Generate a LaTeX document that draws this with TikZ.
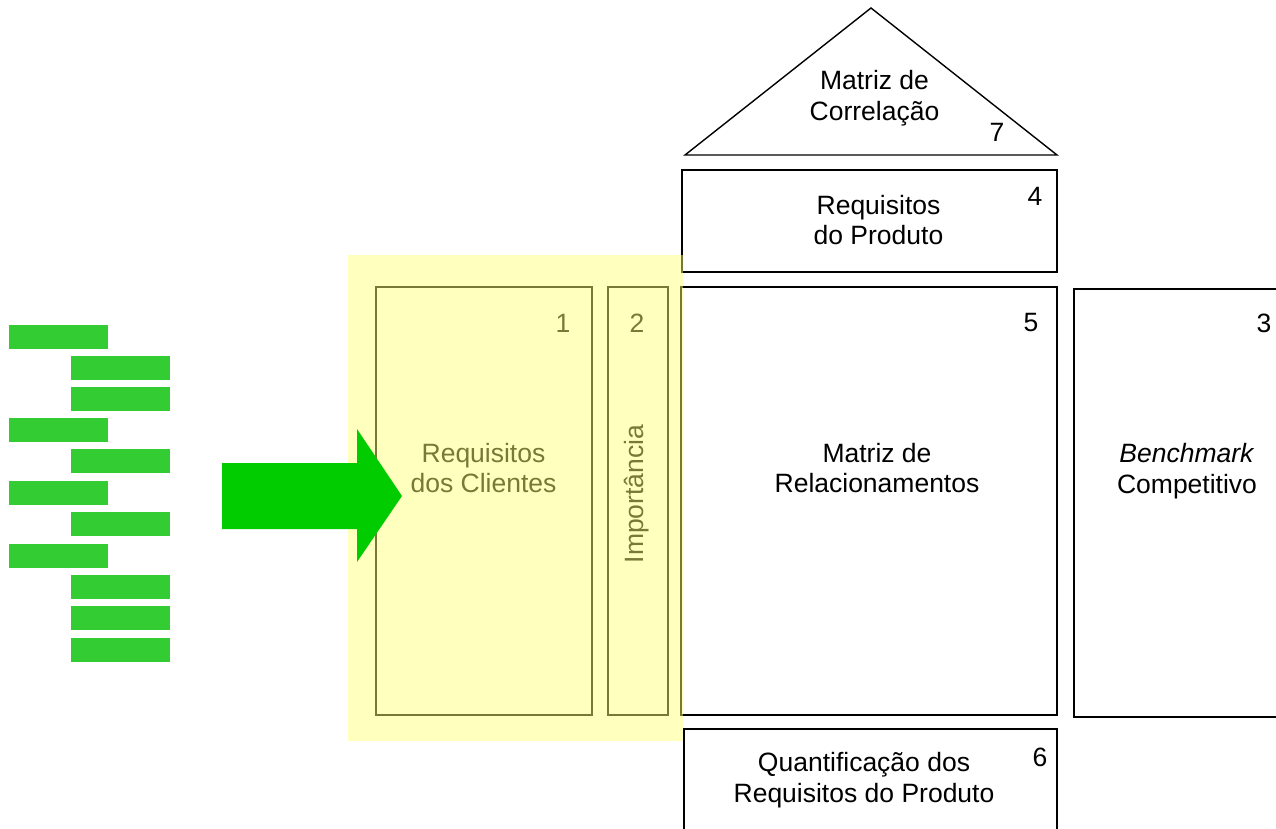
\documentclass[tikz,border=0pt]{standalone}
\usepackage{fontspec}
\setmainfont{Liberation Sans}
\definecolor{barg}{RGB}{51,204,51}
\definecolor{arrg}{RGB}{0,204,0}
\definecolor{hl}{RGB}{255,255,117}
\begin{document}
\begin{tikzpicture}[x=1pt,y=-1pt,
  box/.style={draw=black,line width=1.4pt,rectangle,inner sep=0pt},
  lbl/.style={font=\fontsize{26.5}{30.5}\selectfont,align=center,inner sep=0pt},
  num/.style={font=\fontsize{26.5}{30}\selectfont,inner sep=0pt},
  bar/.style={fill=barg,draw=none,rectangle,inner sep=0pt,minimum width=99pt,minimum height=24pt}]
\useasboundingbox (0,0) rectangle (1276,829);
\clip (0,0) rectangle (1276,829);
% roof
\coordinate (tA) at (871,8);
\coordinate (tL) at (685,155);
\coordinate (tR) at (1057,155);
\draw[line width=1.4pt,line join=miter] (tL) -- (tA) -- (tR) -- cycle;
\node[lbl] (t7) at (874.5,98) {Matriz de\\Correlação};
\node[num] (n7) at (997,132) {7};
% box 4
\node[box,minimum width=375pt,minimum height=102pt] (b4) at (869.5,221) {};
\node[lbl] (t4) at (878.5,220) {Requisitos\\do Produto};
\node[num] (n4) at (1035,196) {4};
% box 5
\node[box,minimum width=376pt,minimum height=428pt] (b5) at (869,501) {};
\node[lbl] (t5) at (877,468) {Matriz de\\Relacionamentos};
\node[num] (n5) at (1031,323) {5};
% box 3
\node[box,minimum width=240pt,minimum height=428pt] (b3) at (1194,503) {};
\node[lbl] (t3) at (1187,471) {\textit{Benchmark}\\Competitivo};
\node[num] (n3) at (1264,323) {3};
% box 6
\node[box,minimum width=373pt,minimum height=140pt] (b6) at (870.5,799) {};
\node[lbl] (t6) at (864,780) {Quantificação dos\\Requisitos do Produto};
\node[num] (n6) at (1040,757) {6};
% box 1
\node[box,minimum width=216pt,minimum height=428pt] (b1) at (484,501) {};
\node[lbl] (t1) at (483.5,468) {Requisitos\\dos Clientes};
\node[num] (n1) at (563,323) {1};
% box 2
\node[box,minimum width=60pt,minimum height=428pt] (b2) at (638,501) {};
\node[lbl,rotate=90] (t2) at (637,494) {Importância};
\node[num] (n2) at (637,323) {2};
% highlight overlay
\fill[hl,fill opacity=0.47] (348,255) rectangle (683,741);
% big arrow
\fill[arrg] (222,463) -- (357,463) -- (357,429) -- (402,496) -- (357,562) -- (357,529) -- (222,529) -- cycle;
% bars
\node[bar] (r1) at (58.5,337) {};
\node[bar] (r2) at (120.5,368) {};
\node[bar] (r3) at (120.5,399) {};
\node[bar] (r4) at (58.5,430) {};
\node[bar] (r5) at (120.5,461) {};
\node[bar] (r6) at (58.5,493) {};
\node[bar] (r7) at (120.5,524) {};
\node[bar] (r8) at (58.5,556) {};
\node[bar] (r9) at (120.5,587) {};
\node[bar] (r10) at (120.5,618) {};
\node[bar] (r11) at (120.5,650) {};
\end{tikzpicture}
\end{document}
